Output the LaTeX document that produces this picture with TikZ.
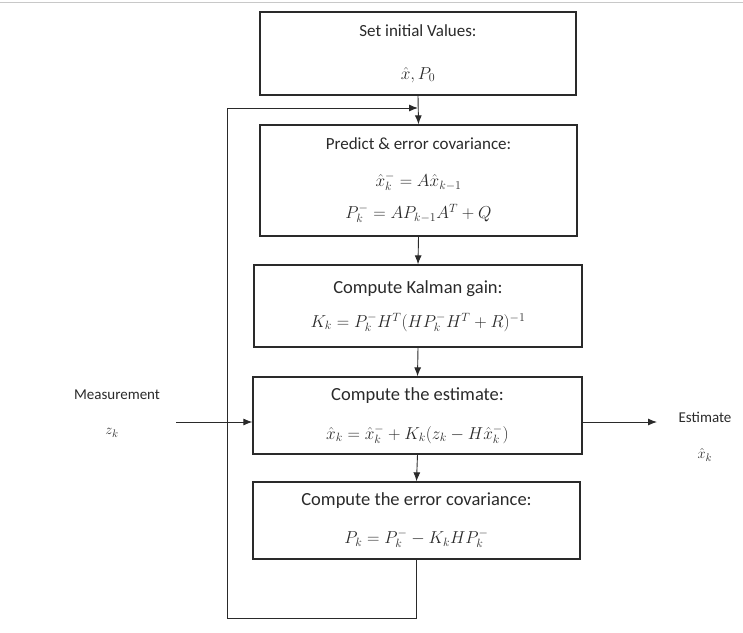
\documentclass[tikz,border=0pt]{standalone}
\usepackage{fontspec}
\setmainfont{Carlito}
\usetikzlibrary{arrows.meta}
\definecolor{edgegray}{HTML}{C8C8C8}
\definecolor{inkgray}{HTML}{2A2A2A}
\tikzset{
  stepbox/.style={draw=inkgray, line width=1.3pt, align=center, inner sep=0pt, text=inkgray},
  smallbox/.style={stepbox, font=\fontsize{17}{20}\selectfont},
  bigbox/.style={stepbox, font=\fontsize{18.5}{21}\selectfont},
  flow/.style={draw=inkgray, line width=0.9pt, -{Latex[length=9pt,width=7pt]}},
  sidetext/.style={font=\fontsize{15}{17}\selectfont, text=inkgray}
}
\begin{document}
\begin{tikzpicture}[x=1pt, y=-1pt]
  \useasboundingbox (0,0) rectangle (743,632);
  % Top edge of the page
  \draw[edgegray, line width=0.8pt] (0,2) -- (743,2);
  % Steps of the filter
  \node[smallbox, minimum width=316pt, minimum height=83pt] (init) at (418,53.5)
    {Set initial Values:\\[23pt] $\hat{x}, P_0$};
  \node[smallbox, minimum width=317pt, minimum height=111pt] (predict) at (418.5,180.5)
    {Predict \& error covariance:\\[17pt]
     {\fontsize{18}{21}\selectfont $\hat{x}_k^- = A\hat{x}_{k-1}$}\\[12pt]
     {\fontsize{18}{21}\selectfont $P_k^- = AP_{k-1}A^T + Q$}};
  \node[bigbox, minimum width=328pt, minimum height=82pt] (gain) at (418,306)
    {Compute Kalman gain:\\[13pt] $K_k = P_k^- H^T (HP_k^- H^T + R)^{-1}$};
  \node[bigbox, minimum width=329pt, minimum height=77pt] (estim) at (417.5,415.5)
    {Compute the estimate:\\[18pt] $\hat{x}_k = \hat{x}_k^- + K_k(z_k - H\hat{x}_k^-)$};
  \node[bigbox, minimum width=327pt, minimum height=77pt] (errcov) at (416.5,520.5)
    {Compute the error covariance:\\[17pt] $P_k = P_k^- - K_k H P_k^-$};
  % Side labels
  \node[sidetext] (meas) at (117,395) {Measurement};
  \node[sidetext] (zk) at (112,433) {$z_k$};
  \node[sidetext] (est) at (705,417) {Estimate};
  \node[sidetext] (xk) at (705,455) {$\hat{x}_k$};
  % Loop points
  \coordinate (measin) at (176,422);
  \coordinate (estout) at (657,422);
  \coordinate (fbbottom) at (227,618);
  \coordinate (fbtop) at (227,108);
  \coordinate (merge) at (418,108);
  % Connectors
  \draw[flow] (init.south) -- (predict.north);
  \draw[flow] (predict.south) -- (gain.north);
  \draw[flow] (gain.south) -- (estim.north);
  \draw[flow] (estim.south) -- (errcov.north);
  \draw[flow] (errcov.south) |- (fbbottom) -- (fbtop) -- (merge);
  \draw[flow] (measin) -- (measin -| estim.west);
  \draw[flow] (estout -| estim.east) -- (estout);
\end{tikzpicture}
\end{document}
